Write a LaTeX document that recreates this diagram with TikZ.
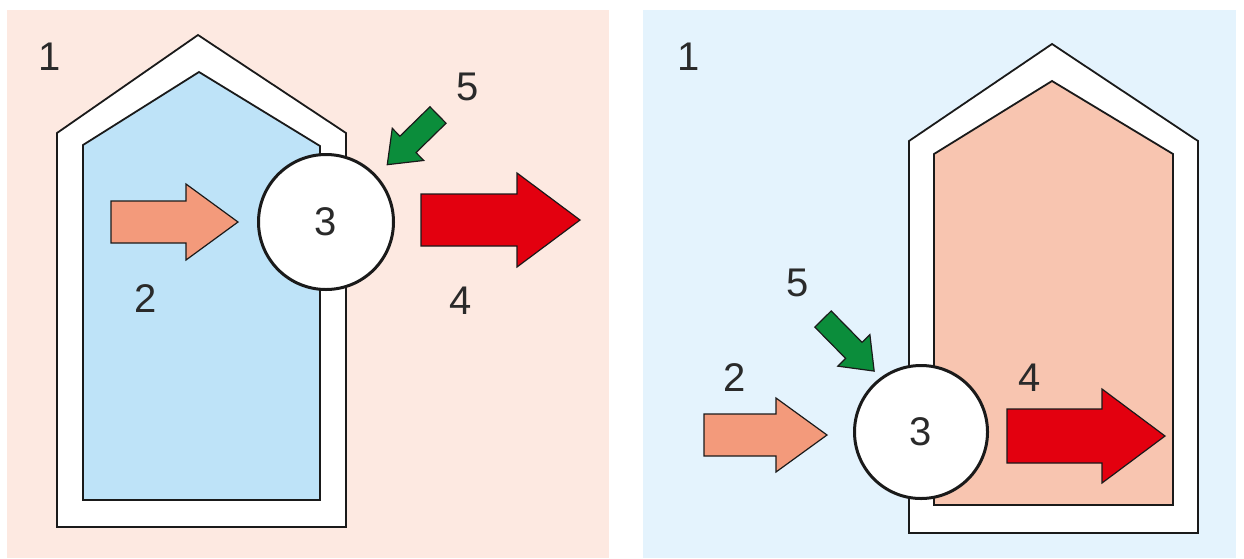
\documentclass[tikz,border=0pt]{standalone}
\usepackage{fontspec}
\setmainfont{Liberation Sans}
\definecolor{bgpink}{HTML}{FDE9E1}
\definecolor{bgblue}{HTML}{E4F3FD}
\definecolor{coolfill}{HTML}{BEE3F8}
\definecolor{warmfill}{HTML}{F8C5B0}
\definecolor{inflow}{HTML}{F39A7B}
\definecolor{outflow}{HTML}{E3000F}
\definecolor{aux}{HTML}{0B8D3B}
\definecolor{ink}{HTML}{1A1A1A}
\definecolor{labelink}{HTML}{2A2A2A}
\tikzset{
  wall/.style={draw=ink, line width=1.8pt},
  unit/.style={circle, draw=ink, line width=3pt, fill=white, minimum size=#1, inner sep=0pt,
               font=\fontsize{40}{44}\selectfont, text=labelink},
  num/.style={font=\fontsize{40}{44}\selectfont, text=labelink, inner sep=0pt},
  flow/.style={draw=ink, line width=1.2pt, line join=miter},
  % block arrow: length, half shaft width, half head width, head length
  pics/blockarrow/.style n args={4}{code={
    \path[pic actions] (0,-#2) -- (#1-#4,-#2) -- (#1-#4,-#3) -- (#1,0)
      -- (#1-#4,#3) -- (#1-#4,#2) -- (0,#2) -- cycle;}}
}
\begin{document}
\begin{tikzpicture}[x=1pt, y=-1pt]
\useasboundingbox (0,0) rectangle (1244,558);
\fill[white] (0,0) rectangle (1244,558);

% ---------- left panel: heat pump heating the building ----------
\fill[bgpink] (7,10) rectangle (609,558);
\path[wall, fill=white] (57,527) -- (57,133) -- (198,35) -- (346,133) -- (346,527) -- cycle;
\path[wall, fill=coolfill] (83,500) -- (83,145) -- (199,72) -- (320,146) -- (320,500) -- cycle;

\pic[flow, fill=inflow, shift={(111,222)}] {blockarrow={127}{21}{38}{52}};
\pic[flow, fill=outflow, shift={(421,220)}] {blockarrow={159}{26}{47}{63}};
\pic[flow, fill=aux, shift={(438,115)}, rotate=224.4] {blockarrow={71}{11.5}{22.5}{29}};

\node[unit=135pt] (pumpL) at (326,222) {3};

\node[num] (oneL)  at (50,57)   {1};
\node[num] (twoL)  at (146,299) {2};
\node[num] (fourL) at (461,301) {4};
\node[num] (fiveL) at (468,87)  {5};

% ---------- right panel: heat pump cooling the building ----------
\fill[bgblue] (643,10) rectangle (1236,558);
\path[wall, fill=white] (909,533) -- (909,141) -- (1052,44) -- (1198,141) -- (1198,533) -- cycle;
\path[wall, fill=warmfill] (934,505) -- (934,154) -- (1052,81) -- (1173,154) -- (1173,505) -- cycle;

\pic[flow, fill=inflow, shift={(704,435)}] {blockarrow={123}{21}{37}{51}};
\pic[flow, fill=outflow, shift={(1007,436)}] {blockarrow={158}{27}{47}{63}};
\pic[flow, fill=aux, shift={(823,319)}, rotate=-45.5] {blockarrow={73}{11.5}{22.5}{29}};

\node[unit=133pt] (pumpR) at (921,432) {3};

\node[num] (oneR)  at (689,57)   {1};
\node[num] (twoR)  at (735,378)  {2};
\node[num] (fiveR) at (798,283)  {5};
\node[num] (fourR) at (1030,378) {4};
\end{tikzpicture}
\end{document}
